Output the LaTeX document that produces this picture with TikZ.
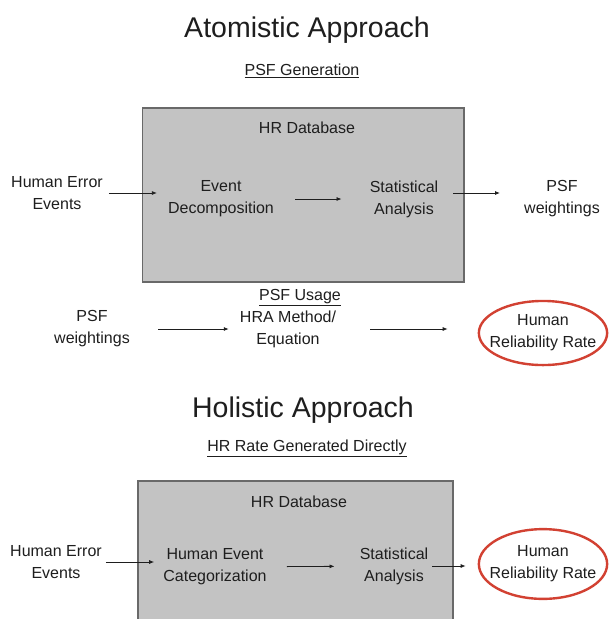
\documentclass[tikz,border=0pt]{standalone}
\usepackage{fontspec}
\setmainfont{Liberation Sans}
\usepackage{tikz}
\usetikzlibrary{shapes.geometric, arrows.meta, positioning}
\definecolor{boxgray}{RGB}{195,195,195}
\definecolor{boxedge}{RGB}{105,105,105}
\definecolor{textgray}{RGB}{30,30,30}
\definecolor{resultred}{RGB}{210,65,50}
\tikzset{
    title/.style={font=\fontsize{28.5}{34}\selectfont, text=textgray, inner sep=2pt},
    subhead/.style={font=\fontsize{16}{20}\selectfont, text=textgray, inner sep=2pt},
    label/.style={align=center, font=\fontsize{16}{22}\selectfont, text=textgray, inner sep=2pt},
    dbbox/.style={rectangle, draw=boxedge, line width=1.3pt, fill=boxgray, inner sep=0pt},
    result/.style={ellipse, draw=resultred, line width=2.4pt, align=center,
        font=\fontsize{16}{22}\selectfont, text=textgray},
    arrow/.style={-{Latex[length=5pt, width=4pt]}, line width=0.8pt, draw=textgray}
}

\begin{document}
\begin{tikzpicture}[x=1pt, y=-1pt]
    \clip (0,0) rectangle (612,619);
    \fill[white] (0,0) rectangle (612,619);

    % Atomistic part
    \node (atom) [title] at (307,30) {Atomistic Approach};
    \node (psfgen) [subhead] at (302,71) {\underline{PSF Generation}};
    \node (box1) [dbbox, minimum width=321.3pt, minimum height=174pt] at (303.35,195) {};
    \node (db1) [label] at (307,128) {HR Database};

    % Top Row Nodes
    \node (hee1) [label] at (57,193) {Human Error\\Events};
    \node (evdec) [label] at (221,199) {Event\\Decomposition};
    \node (stat1) [label] at (404,199) {Statistical\\Analysis};
    \node (psfw1) [label] at (562,199) {PSF\\weightings};

    \node (psfuse) [subhead] at (300,298) {\underline{PSF Usage}};

    % Usage Row Nodes
    \node (psfw2) [label] at (92,329) {PSF\\weightings};
    \node (hra) [label] at (288,329) {HRA Method/\\Equation};
    \node (hrr1) [result, inner xsep=-8pt, inner ysep=4.5pt] at (543,333) {Human\\Reliability Rate};

    % Holistic part
    \node (holi) [title] at (303,410) {Holistic Approach};
    \node (hrgen) [subhead] at (307,448) {\underline{HR Rate Generated Directly}};
    \node (box2) [dbbox, minimum width=315pt, minimum height=170pt] at (295.5,566) {};
    \node (db2) [label] at (299,502) {HR Database};

    % Bottom Row Nodes
    \node (hee2) [label] at (56,562) {Human Error\\Events};
    \node (hec) [label] at (215,567) {Human Event\\Categorization};
    \node (stat2) [label] at (394,566) {Statistical\\Analysis};
    \node (hrr2) [result, inner xsep=-8pt, inner ysep=6.5pt] at (543,564) {Human\\Reliability Rate};

    % Arrows
    \draw [arrow, shorten <=4pt, shorten >=9pt] (hee1.east) -- (hee1.east -| evdec.west);
    \draw [arrow, shorten <=19pt, shorten >=26pt] (evdec) -- (stat1);
    \draw [arrow, shorten <=13pt, shorten >=22pt] ([yshift=6pt]stat1.east) -- ([yshift=6pt]psfw1.west);

    \draw [arrow, shorten <=26pt, shorten >=9pt] (psfw2) -- (hra);
    \draw [arrow, shorten <=32pt, shorten >=30pt] (hra.east) -- (hra.east -| hrr1.west);

    \draw [arrow, shorten <=2pt, shorten >=7pt] (hee2.east) -- (hee2.east -| hec.west);
    \draw [arrow, shorten <=18pt, shorten >=23pt] (hec) -- (stat2);
    \draw [arrow, shorten <=2pt, shorten >=12pt] (stat2.east) -- (stat2.east -| hrr2.west);

\end{tikzpicture}
\end{document}
